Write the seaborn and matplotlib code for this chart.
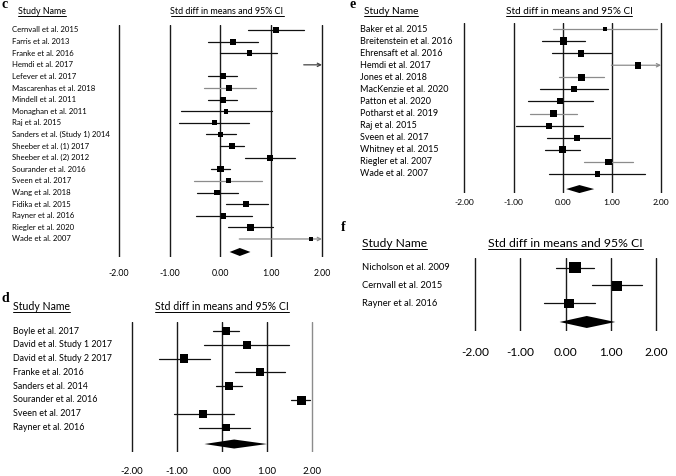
import numpy as np
import pandas as pd
import matplotlib
matplotlib.use("Agg")
import matplotlib.pyplot as plt
import seaborn as sns
from matplotlib.lines import Line2D
from matplotlib.transforms import blended_transform_factory

# ---------------- data ----------------
ticks = [-2, -1, 0, 1, 2]
tick_labels = ["-2.00", "-1.00", "0.00", "1.00", "2.00"]

c_studies = ["Cernvall et al. 2015", "Farris et al. 2013", "Franke et al. 2016", "Hemdi et al. 2017",
             "Lefever et al. 2017", "Mascarenhas et al. 2018", "Mindell et al. 2011", "Monaghan et al. 2011",
             "Raj et al. 2015", "Sanders et al. (Study 1) 2014", "Sheeber et al. (1) 2017",
             "Sheeber et al. (2) 2012", "Sourander et al. 2016", "Sveen et al. 2017", "Wang et al. 2018",
             "Fidika et al. 2015", "Rayner et al. 2016", "Riegler et al. 2020", "Wade et al. 2007"]
c_est = [1.09, 0.25, 0.57, 2.45, 0.04, 0.17, 0.04, 0.11, -0.12, 0.00, 0.23, 0.97, 0.00, 0.15, -0.07, 0.51, 0.06, 0.59, 1.78]
c_lo = [0.55, -0.24, 0.00, 1.64, -0.24, -0.33, -0.24, -0.78, -0.82, -0.28, 0.00, 0.49, -0.18, -0.52, -0.46, 0.10, -0.49, 0.14, 0.37]
c_hi = [1.64, 0.74, 1.12, 3.30, 0.33, 0.70, 0.33, 1.01, 0.57, 0.30, 0.47, 1.47, 0.18, 0.81, 0.35, 0.94, 0.63, 1.04, 3.10]
c_weight = [5.7, 6.0, 5.7, 6.0, 6.0, 5.7, 6.0, 4.7, 5.0, 5.7, 6.0, 6.0, 6.3, 5.0, 5.7, 6.0, 5.7, 6.3, 4.0]
c_gray = [0, 0, 0, 1, 0, 2, 0, 0, 0, 0, 0, 0, 0, 2, 0, 0, 0, 0, 2]
c_summary = [0.18, 0.38, 0.59]

d_studies = ["Boyle et al. 2017", "David et al. Study 1 2017", "David et al. Study 2 2017", "Franke et al. 2016",
             "Sanders et al. 2014", "Sourander et al. 2016", "Sveen et al. 2017", "Rayner et al. 2016"]
d_est = [0.09, 0.56, -0.84, 0.85, 0.16, 1.76, -0.42, 0.09]
d_lo = [-0.21, -0.39, -1.39, 0.30, -0.13, 1.54, -1.07, -0.50]
d_hi = [0.37, 1.50, -0.27, 1.41, 0.44, 1.96, 0.26, 0.63]
d_weight = [8.3, 7.7, 8.3, 8.0, 7.7, 9.0, 8.3, 7.7]
d_gray = [0, 0, 0, 0, 0, 0, 0, 0]
d_summary = [-0.39, 0.27, 1.00]

e_studies = ["Baker et al. 2015", "Breitenstein et al. 2016", "Ehrensaft et al. 2016", "Hemdi et al. 2017",
             "Jones et al. 2018", "MacKenzie et al. 2020", "Patton et al. 2020", "Potharst et al. 2019",
             "Raj et al. 2015", "Sveen et al. 2017", "Whitney et al. 2015", "Riegler et al. 2007", "Wade et al. 2007"]
e_est = [0.86, 0.01, 0.37, 1.53, 0.39, 0.22, -0.05, -0.19, -0.28, 0.30, -0.01, 0.93, 0.71]
e_lo = [-0.19, -0.43, -0.22, 0.99, -0.07, -0.47, -0.70, -0.66, -0.95, -0.32, -0.36, 0.44, -0.27]
e_hi = [1.92, 0.45, 0.99, 2.20, 0.84, 0.93, 0.61, 0.30, 0.41, 0.96, 0.36, 1.42, 1.67]
e_weight = [4.7, 7.3, 6.7, 6.7, 7.0, 6.0, 6.0, 6.7, 6.0, 6.0, 7.3, 6.7, 5.3]
e_gray = [2, 0, 0, 2, 2, 0, 0, 2, 0, 0, 0, 2, 0]
e_summary = [0.07, 0.34, 0.64]

f_studies = ["Nicholson et al. 2009", "Cernvall et al. 2015", "Rayner et al. 2016"]
f_est = [0.21, 1.13, 0.08]
f_lo = [-0.20, 0.59, -0.47]
f_hi = [0.63, 1.69, 0.65]
f_weight = [11.3, 10.0, 9.3]
f_gray = [0, 0, 0]
f_summary = [-0.13, 0.47, 1.10]

# ---------------- figure ----------------
W, H = 676, 476
sns.set_theme(style="white")
plt.rcParams["font.family"] = ["Lato", "DejaVu Sans"]
fig = plt.figure(figsize=(W / 100, H / 100), dpi=100)
fig.patch.set_facecolor("white")
renderer = fig.canvas.get_renderer()
GRAYS = {0: "#111111", 1: "#444444", 2: "#8c8c8c"}
TXT = "#000000"


def fit(t, target):
    w = t.get_window_extent(renderer).width
    t.set_fontsize(t.get_fontsize() * target / w)
    return t


def underline(t):
    bb = t.get_window_extent(renderer)
    y = bb.y0 + 0.5
    fig.add_artist(Line2D([bb.x0 / W, bb.x1 / W], [y / H, y / H], transform=fig.transFigure,
                          color=TXT, lw=0.7))


def panel(letter, studies, est, lo, hi, weight, gray, summary, geo):
    xm2, scale, row0, sp, ltop, lbot = geo["x"], geo["scale"], geo["row0"], geo["sp"], geo["top"], geo["bot"]
    left = xm2 - 0.6 * scale
    right = xm2 + 4.6 * scale
    ax = fig.add_axes([left / W, 1 - lbot / H, (right - left) / W, (lbot - ltop) / H])
    ax.set_xlim(-2.6, 2.6)
    ax.set_ylim((lbot - row0) / sp, (ltop - row0) / sp)
    ax.set_facecolor("none")
    for s in ax.spines.values():
        s.set_visible(False)
    ax.set_yticks([])
    for v in ticks:
        ax.axvline(v, color=geo.get("vcol", {}).get(v, "#1a1a1a"), lw=1.0, zorder=1)

    n = len(studies)
    df = pd.DataFrame({"study": studies, "est": est, "lo": lo, "hi": hi,
                       "w": weight, "g": gray, "row": np.arange(n)})
    # confidence intervals
    for _, r in df.iterrows():
        col = GRAYS[r["g"]]
        if r["hi"] > 2:
            ax.annotate("", xy=(2, r["row"]), xytext=(r["lo"], r["row"]),
                        arrowprops=dict(arrowstyle="->", color=col, lw=0.9,
                                        shrinkA=0, shrinkB=0, mutation_scale=6), zorder=2)
        else:
            ax.plot([r["lo"], r["hi"]], [r["row"], r["row"]], color=col, lw=0.9, zorder=2)
    vis = df[df["est"] <= 2]
    sns.scatterplot(data=vis, x="est", y="row", marker="s", color="black",
                    s=(vis["w"].to_numpy() * 0.72) ** 2, linewidth=0, legend=False, ax=ax, zorder=3)
    # summary diamond
    dl, de, dh = summary
    yd = geo["drow"]
    hh = geo["dh"] / sp
    ax.fill([dl, de, dh, de], [yd, yd - hh, yd, yd + hh], color="black", lw=0, zorder=3)

    ax.set_xlabel("")
    ax.set_ylabel("")
    ax.set_xticks(ticks)
    ax.set_xticklabels(tick_labels)
    ax.tick_params(axis="x", length=0, colors=TXT)
    # fit tick label size
    fs0 = 8.0
    ax.tick_params(axis="x", labelsize=fs0)
    w0 = ax.get_xticklabels()[0].get_window_extent(renderer).width
    fs = fs0 * geo["tickw"] / w0
    pad_px = geo["tickoff"] - 0.5 * fs * 1.389
    ax.tick_params(axis="x", labelsize=fs, pad=pad_px / 1.389)

    # study labels
    tr = blended_transform_factory(fig.transFigure, ax.transData)
    texts = [ax.text(geo["lx"] / W, i, s, transform=tr, ha="left", va="center",
                     fontsize=6, color=TXT, clip_on=False) for i, s in enumerate(studies)]
    widths = [t.get_window_extent(renderer).width for t in texts]
    k = geo["lw"] / max(widths)
    for t in texts:
        t.set_fontsize(6 * k)

    # headers
    t1 = fig.text(geo["snx"] / W, 1 - geo["hy"] / H, "Study Name", ha="left", va="center",
                  fontsize=7, color=TXT)
    fit(t1, geo["snw"])
    t2 = fig.text(geo["tcx"] / W, 1 - geo["hy"] / H, "Std diff in means and 95% CI", ha="center",
                  va="center", fontsize=7, color=TXT)
    fit(t2, geo["tw"])
    underline(t1)
    underline(t2)
    fig.text(geo["letx"] / W, 1 - geo["lety"] / H, letter, ha="left", va="center",
             fontsize=geo.get("letfs", 10), fontweight="bold", family="Liberation Serif", color=TXT)
    return ax


geo_c = dict(x=119, scale=50.75, row0=30, sp=11.61, top=25, bot=257, drow=19.12, dh=4.0,
             tickw=20.5, tickoff=16, lx=12, lw=98, snx=18, snw=48, tcx=227, tw=114, hy=12,
             letx=2, lety=5)
geo_d = dict(x=132, scale=45, row0=331, sp=13.8, top=322, bot=452, drow=8.19, dh=4.5,
             tickw=23, tickoff=20, lx=13, lw=99, snx=13, snw=57, tcx=222, tw=133, hy=307,
             letx=2, lety=298, vcol={2: "#8c8c8c"})
geo_e = dict(x=464.3, scale=49.2, row0=29, sp=12.08, top=23, bot=193, drow=13.25, dh=4.0,
             tickw=20, tickoff=10, lx=360, lw=93, snx=364, snw=54, tcx=569, tw=127, hy=12,
             letx=350, lety=5)
geo_f = dict(x=475, scale=45.25, row0=267.7, sp=17.8, top=258, bot=331, drow=3.05, dh=6.0,
             tickw=28, tickoff=22, lx=362, lw=88, snx=362, snw=65, tcx=565.5, tw=155, hy=244,
             letx=341, lety=227)

panel("c", c_studies, c_est, c_lo, c_hi, c_weight, c_gray, c_summary, geo_c)
panel("d", d_studies, d_est, d_lo, d_hi, d_weight, d_gray, d_summary, geo_d)
panel("e", e_studies, e_est, e_lo, e_hi, e_weight, e_gray, e_summary, geo_e)
panel("f", f_studies, f_est, f_lo, f_hi, f_weight, f_gray, f_summary, geo_f)

fig.savefig("out.png", dpi=100, facecolor="white")
